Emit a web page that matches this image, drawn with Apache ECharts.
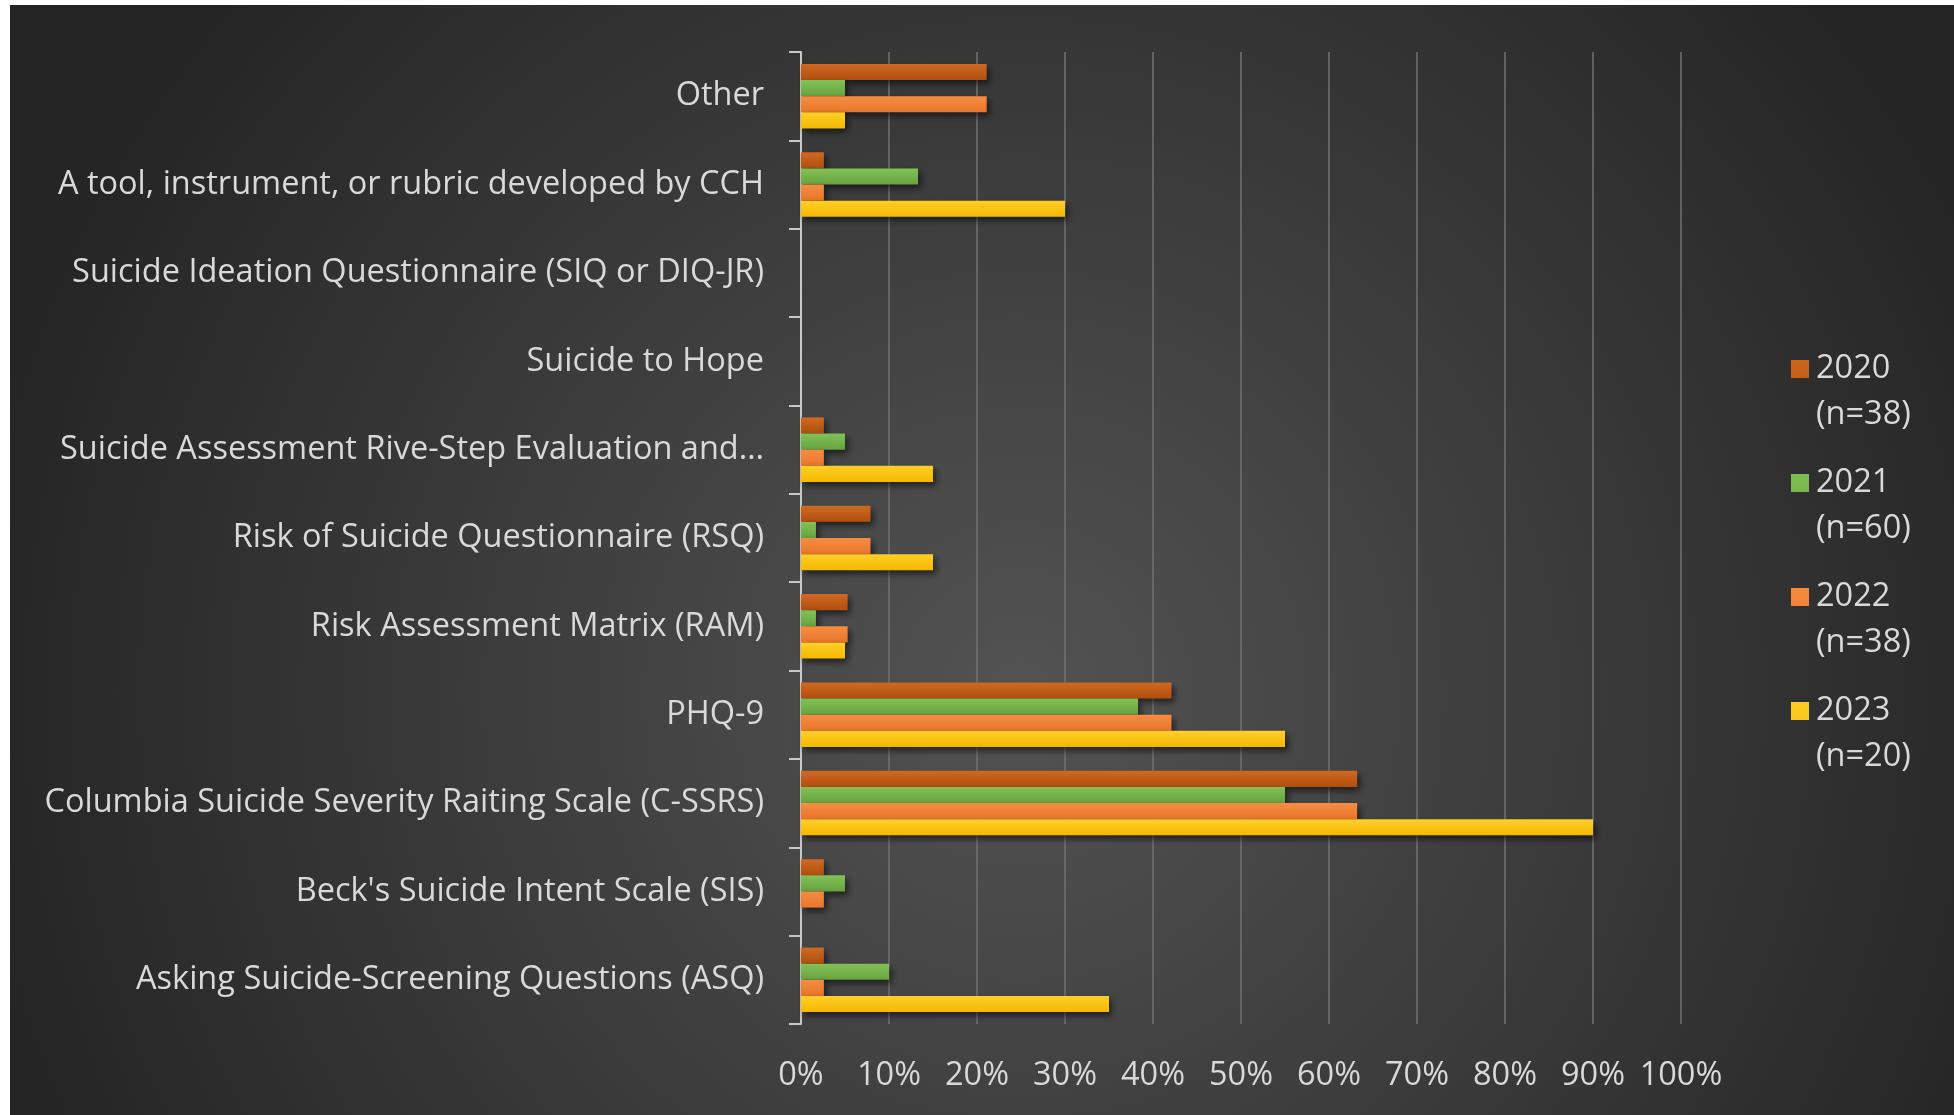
<!DOCTYPE html>
<html><head><meta charset="utf-8">
<script src="https://cdn.jsdelivr.net/npm/echarts@6/dist/echarts.min.js"></script>
<style>html,body{margin:0;padding:0;background:#fff;width:1954px;height:1115px;overflow:hidden}
#c{position:absolute;left:10px;top:5px;width:1944px;height:1110px}</style>
</head><body><div id="c"></div><script>
// categories listed top to bottom
const categories = [
  'Other',
  'A tool, instrument, or rubric developed by CCH',
  'Suicide Ideation Questionnaire (SIQ or DIQ-JR)',
  'Suicide to Hope',
  'Suicide Assessment Rive-Step Evaluation and\u2026',
  'Risk of Suicide Questionnaire (RSQ)',
  'Risk Assessment Matrix (RAM)',
  'PHQ-9',
  'Columbia Suicide Severity Raiting Scale (C-SSRS)',
  "Beck's Suicide Intent Scale (SIS)",
  'Asking Suicide-Screening Questions (ASQ)'
];
const years = ['2020', '2021', '2022', '2023'];
const sampleSizes = [38, 60, 38, 20];
const v2020 = [21.1, 2.6, 0, 0, 2.6, 7.9, 5.3, 42.1, 63.2, 2.6, 2.6];
const v2021 = [5.0, 13.3, 0, 0, 5.0, 1.7, 1.7, 38.3, 55.0, 5.0, 10.0];
const v2022 = [21.1, 2.6, 0, 0, 2.6, 7.9, 5.3, 42.1, 63.2, 2.6, 2.6];
const v2023 = [5.0, 30.0, 0, 0, 15.0, 15.0, 5.0, 55.0, 90.0, 0, 35.0];
const xTickLabels = ['0%','10%','20%','30%','40%','50%','60%','70%','80%','90%','100%'];

const values = [v2020, v2021, v2022, v2023];
const colorsTop = ['#cf6a24', '#82c257', '#f68d42', '#ffcf2a'];
const colorsBot = ['#b24e0c', '#67a23f', '#e8752a', '#f5b800'];
const FONT = '"Open Sans"';
const TXT = '#d9d9d9';
const FS = 32.5;

const series = years.map((y, i) => ({
  name: y + ' (n=' + sampleSizes[i] + ')',
  type: 'bar',
  data: values[i],
  barGap: '0%',
  barCategoryGap: '27%',
  itemStyle: {
    color: new echarts.graphic.LinearGradient(0, 0, 0, 1, [
      {offset: 0, color: colorsTop[i]}, {offset: 1, color: colorsBot[i]}
    ]),
    shadowBlur: 6,
    shadowColor: 'rgba(0,0,0,0.55)',
    shadowOffsetX: 3,
    shadowOffsetY: 4
  }
}));

const chart = echarts.init(document.getElementById('c'));
chart.setOption({
  animation: false,
  backgroundColor: {
    type: 'radial', x: 0.52, y: 0.62, r: 0.95,
    colorStops: [{offset: 0, color: '#535353'}, {offset: 1, color: '#252525'}]
  },
  textStyle: {fontFamily: FONT},
  grid: {left: 791, right: 273, top: 47, bottom: 91, containLabel: false},
  legend: {
    orient: 'vertical',
    left: 1776, top: 336,
    itemWidth: 18, itemHeight: 92, itemGap: 22,
    icon: 'path://M0,14L18,14L18,32L0,32Z M0,0L0.01,0L0,0.01Z M0,92L0.01,92L0,92.01Z',
    itemStyle: {shadowBlur: 0, shadowOffsetX: 0, shadowOffsetY: 0},
    formatter: n => n.replace(' ', '\n'),
    textStyle: {color: TXT, fontSize: FS, lineHeight: 46, fontFamily: FONT, padding: [0, 0, 0, 2]},
    data: series.map(s => s.name)
  },
  xAxis: {
    type: 'value', min: 0, max: 100, interval: 10,
    axisLine: {show: false}, axisTick: {show: false},
    splitLine: {show: true, lineStyle: {color: '#727272', width: 1.5}},
    axisLabel: {
      color: TXT, fontSize: FS, fontFamily: FONT, margin: 35,
      formatter: v => xTickLabels[Math.round(v / 10)]
    }
  },
  yAxis: {
    type: 'category', inverse: true, data: categories,
    axisLine: {show: true, lineStyle: {color: '#c8c8c8', width: 2}},
    axisTick: {show: true, length: 12, lineStyle: {color: '#c8c8c8', width: 2}},
    splitLine: {show: false},
    axisLabel: {color: TXT, fontSize: FS, fontFamily: FONT, margin: 37}
  },
  series: series
});
</script></body></html>
